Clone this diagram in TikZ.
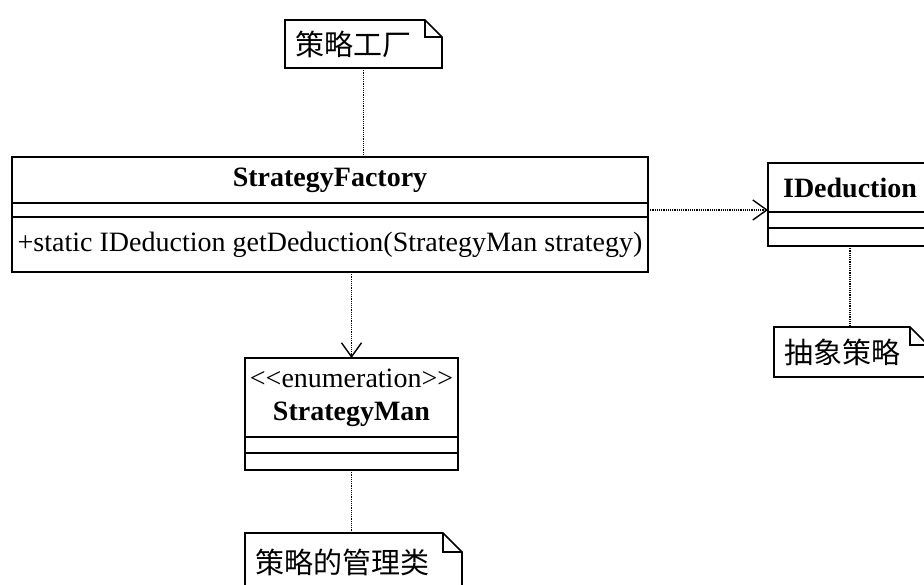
\documentclass[tikz,border=0pt]{standalone}
\usepackage{fontspec}
\setmainfont{Liberation Serif}
\newfontfamily\cjk{Noto Sans CJK SC}
\usetikzlibrary{positioning,arrows.meta}

% outline of a note with a folded corner
\newcommand\notefold[2][18pt]{%
  \draw[noteline] (#2.north west) -- ([xshift=-#1]#2.north east) -- ([yshift=-#1]#2.north east)
    -- (#2.south east) -- (#2.south west) -- cycle
    ([xshift=-#1]#2.north east) |- ([yshift=-#1]#2.north east);}

\begin{document}
\begin{tikzpicture}[x=1pt,y=-1pt,
        compart/.style={draw, line width=1.7pt, outer sep=0pt, inner sep=0pt, align=center,
                        font=\fontsize{28}{33}\selectfont},
        classname/.style={compart, font=\fontsize{28}{33}\selectfont\bfseries},
        notebox/.style={inner xsep=10pt, inner ysep=0pt, outer sep=0pt, align=left,
                        font=\fontsize{29}{33}\selectfont\cjk},
        noteline/.style={line width=1.7pt, line join=miter},
        anchorline/.style={densely dotted, line width=1.2pt},
        depend/.style={anchorline, -{Straight Barb[length=14pt,width=20pt,line width=1.4pt]}},
        node distance=0pt
        ]
        \path[use as bounding box, clip] (0,0) rectangle (924,585);

        % classes
        \node[classname, minimum width=636pt, minimum height=46pt] (factory) at (330,180) {\raisebox{-5pt}{StrategyFactory}};
        \node[compart, minimum width=636pt, minimum height=14pt]    (factoryattr) [below=of factory]     {};
        \node[compart, minimum width=636pt, minimum height=55pt]    (factoryop)   [below=of factoryattr] {+static IDeduction getDeduction(StrategyMan strategy)};

        \node[classname, minimum width=164pt, minimum height=49pt] (ided) at (850,187.5) {IDeduction};
        \node[compart, minimum width=164pt, minimum height=16pt]    (idedattr) [below=of ided]     {};
        \node[compart, minimum width=164pt, minimum height=18pt]    (idedop)   [below=of idedattr] {};

        \node[classname, minimum width=213pt, minimum height=79pt] (man) at (351.5,397.5)
            {{\mdseries\textless\kern0pt\textless enumeration\textgreater\kern0pt\textgreater}\\StrategyMan};
        \node[compart, minimum width=213pt, minimum height=16pt]    (manattr) [below=of man]     {};
        \node[compart, minimum width=213pt, minimum height=17pt]    (manop)   [below=of manattr] {};

        % notes
        \node[notebox, text width=137pt, minimum height=48pt] (factorynote) at (363.5,44)  {策略工厂};
        \node[notebox, text width=134pt, minimum height=50pt] (idednote)    at (851,352)   {抽象策略};
        \node[notebox, text width=197pt, minimum height=58pt] (mannote)     at (353.5,562) {策略的管理类};
        \notefold[17pt]{factorynote}
        \notefold{idednote}
        \notefold[19pt]{mannote}

        % connectors
        \draw[anchorline] (factorynote.south) -- (factorynote.south |- factory.north);
        \draw[anchorline] (idedop.south) -- (idedop.south |- idednote.north);
        \draw[anchorline] (manop.south) -- (manop.south |- mannote.north);
        \draw[depend] (factoryattr.east) -- (factoryattr.east -| ided.west);
        \draw[depend] (man.north |- factoryop.south) -- (man.north);
    \end{tikzpicture}
\end{document}
